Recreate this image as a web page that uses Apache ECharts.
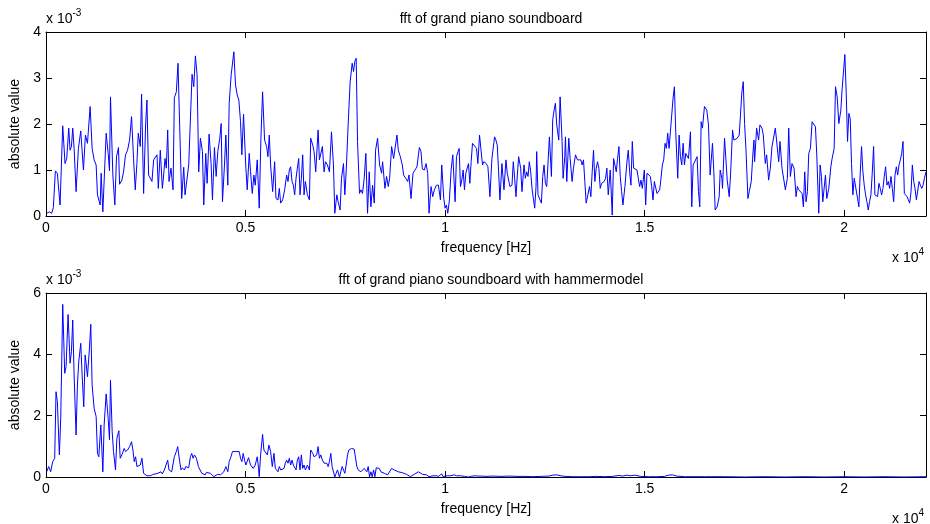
<!DOCTYPE html>
<html><head><meta charset="utf-8">
<script src="https://cdn.jsdelivr.net/npm/echarts@6/dist/echarts.min.js"></script>
<style>html,body{margin:0;padding:0;background:#fff}#c{width:930px;height:524px}</style>
</head><body><div id="c"></div>
<script>
// Top panel: frequency (Hz) and |FFT| (x 1e-3)
const freqTop = [17,84,142,184,235,285,352,419,477,519,570,603,637,670,704,754,812,871,938,988,1039,1106,1156,1206,1256,1290,1357,1382,1424,1474,1508,1558,1591,1616,1675,1725,1767,1817,1843,1901,1943,1993,2044,2094,2144,2194,2236,2278,2312,2362,2395,2446,2496,2529,2571,2613,2655,2697,2739,2781,2814,2864,2915,2948,2982,3015,3049,3082,3132,3183,3216,3266,3308,3350,3400,3451,3484,3534,3576,3618,3660,3702,3744,3785,3827,3869,3920,3953,4003,4037,4087,4137,4171,4221,4263,4305,4355,4389,4422,4472,4506,4556,4590,4640,4707,4749,4791,4832,4874,4908,4950,5008,5042,5092,5126,5168,5210,5243,5293,5343,5385,5427,5477,5528,5561,5595,5628,5679,5729,5762,5813,5846,5880,5930,5980,6030,6064,6097,6131,6164,6198,6231,6265,6298,6332,6365,6399,6432,6466,6499,6550,6600,6633,6684,6717,6759,6818,6851,6885,6926,6968,7002,7052,7102,7153,7203,7236,7287,7320,7370,7404,7454,7488,7521,7571,7621,7672,7705,7739,7772,7806,7856,7890,7931,7973,8015,8057,8099,8141,8183,8225,8258,8308,8359,8409,8434,8493,8534,8576,8610,8660,8710,8744,8794,8828,8878,8928,8961,9012,9062,9095,9146,9196,9246,9296,9355,9397,9430,9481,9523,9565,9598,9648,9690,9732,9782,9833,9883,9916,9967,10000,10033,10067,10109,10151,10193,10251,10285,10352,10385,10419,10452,10486,10519,10553,10586,10620,10653,10687,10737,10787,10821,10863,10904,10938,10972,11030,11073,11123,11173,11207,11240,11274,11307,11341,11374,11424,11475,11525,11558,11592,11625,11676,11709,11743,11776,11810,11843,11893,11927,11977,12011,12044,12078,12111,12145,12178,12212,12245,12279,12295,12329,12379,12413,12446,12480,12513,12547,12580,12614,12664,12697,12731,12764,12798,12848,12882,12932,12957,12999,13016,13049,13099,13133,13183,13217,13267,13317,13351,13401,13434,13468,13501,13535,13585,13619,13652,13686,13719,13753,13786,13820,13853,13887,13920,13954,13987,14021,14054,14088,14138,14188,14222,14255,14289,14322,14356,14389,14423,14456,14506,14557,14590,14624,14657,14691,14724,14774,14808,14841,14875,14908,14942,14975,14992,15026,15059,15093,15143,15176,15210,15243,15277,15310,15344,15377,15411,15444,15478,15511,15545,15578,15612,15645,15679,15712,15746,15779,15830,15863,15897,15930,15964,15997,16031,16064,16098,16148,16181,16215,16265,16315,16349,16382,16416,16449,16499,16558,16600,16641,16700,16734,16767,16817,16868,16893,16935,16951,17002,17035,17069,17119,17152,17203,17236,17270,17320,17370,17404,17437,17471,17504,17538,17588,17621,17672,17705,17739,17755,17806,17856,17889,17940,17973,18023,18057,18107,18149,18191,18233,18275,18325,18359,18392,18442,18476,18526,18576,18610,18651,18693,18744,18794,18827,18861,18911,18945,18978,19012,19045,19079,19112,19154,19196,19229,19280,19313,19363,19397,19430,19464,19531,19564,19615,19665,19698,19749,19782,19824,19866,19916,19950,20017,20050,20084,20117,20151,20184,20218,20251,20301,20335,20368,20402,20435,20469,20502,20536,20569,20603,20636,20670,20703,20737,20770,20804,20837,20871,20904,20938,20971,21005,21038,21072,21105,21139,21172,21206,21240,21273,21307,21340,21374,21407,21441,21474,21507,21541,21575,21608,21641,21675,21708,21742,21775,21809,21842,21876,21909,21943,21977,22010,22050];
const ampTop = [0.06,0.09,0.06,0.18,0.98,0.93,0.24,1.96,1.14,1.25,1.91,1.43,1.51,1.91,1.47,0.53,1.47,1.85,1.0,1.76,1.58,2.38,1.47,1.22,1.11,0.46,0.24,0.93,0.09,1.11,1.80,1.36,0.98,2.59,0.89,0.24,1.29,1.49,0.69,0.78,0.96,1.33,1.43,1.65,2.16,1.25,0.57,1.14,1.80,1.51,2.65,0.49,1.98,2.52,0.89,0.88,0.75,1.22,1.18,1.33,0.60,1.43,0.60,0.89,1.25,1.04,1.87,0.75,1.04,0.57,2.57,2.70,3.32,1.94,0.38,1.06,0.46,0.49,1.11,1.09,3.08,2.81,3.48,3.07,0.96,1.69,1.40,0.24,1.36,0.71,1.78,1.14,0.35,1.49,0.86,1.40,1.69,2.01,0.31,1.11,1.76,0.67,2.45,3.07,3.57,2.85,2.63,2.52,2.05,1.33,2.21,1.04,0.57,1.36,0.96,0.49,0.89,0.67,1.22,0.17,1.69,2.70,1.65,1.51,1.29,1.76,1.11,0.53,1.18,0.38,0.35,0.60,0.28,0.35,0.57,0.89,0.75,1.0,1.07,0.75,0.67,0.46,0.82,1.04,1.25,0.46,0.82,1.33,0.46,0.75,0.46,0.35,1.69,1.54,1.40,0.96,1.87,1.22,1.25,1.51,0.96,1.18,1.11,0.96,1.83,1.11,0.06,0.46,0.31,0.13,0.82,1.14,0.46,0.96,1.98,2.92,3.32,3.14,3.36,3.43,1.62,0.49,0.57,0.49,0.82,1.36,0.06,0.96,0.20,0.67,0.28,1.43,1.69,1.11,0.93,1.18,0.60,0.86,0.64,0.82,1.51,1.25,1.25,1.76,1.43,1.29,1.11,0.89,0.82,0.75,0.89,0.38,0.93,1.0,1.07,1.49,1.40,1.02,1.0,1.14,0.93,0.06,0.64,0.42,0.57,0.67,0.67,0.35,1.11,0.38,0.17,0.24,0.06,0.35,1.0,1.33,0.31,1.29,1.47,0.64,0.78,1.0,0.57,0.93,0.96,1.14,0.71,1.18,1.58,1.54,1.47,1.14,1.76,1.76,1.11,1.18,1.14,1.07,0.42,1.25,1.29,1.72,1.65,1.54,0.96,0.35,1.14,0.57,1.22,0.93,0.96,0.64,0.67,1.18,0.82,0.42,0.89,1.29,1.04,0.53,1.11,0.82,0.96,0.86,1.18,0.96,0.60,0.38,0.17,0.64,1.40,0.46,0.35,0.28,0.86,1.11,0.71,0.64,0.60,1.72,0.86,2.09,2.30,2.45,1.98,1.65,2.59,1.62,0.82,1.29,1.72,0.75,1.69,1.25,0.75,1.04,1.33,1.22,1.18,1.22,1.11,1.22,0.75,0.28,0.24,0.64,0.42,0.96,1.43,0.75,1.04,1.18,1.04,0.60,0.71,0.67,0.75,0.82,1.04,0.46,1.0,0.02,1.25,1.11,0.96,1.25,1.51,0.86,0.53,0.24,0.64,1.18,1.43,0.96,0.67,1.62,1.04,1.04,1.0,0.82,0.64,0.78,0.60,0.57,1.0,0.24,0.93,0.89,0.86,0.64,0.35,0.75,0.78,0.49,0.53,0.57,0.82,1.11,1.22,1.58,1.47,1.80,1.47,1.83,2.20,2.56,2.81,1.83,0.82,1.76,1.29,1.11,1.58,1.11,1.36,1.33,1.25,1.83,0.20,1.11,1.11,1.29,0.53,0.20,2.05,1.91,2.38,2.30,1.98,0.89,1.58,0.96,0.13,0.20,0.42,1.0,0.82,0.60,1.69,1.25,0.78,0.42,0.89,1.87,1.65,1.65,1.69,1.76,1.80,2.70,2.92,2.01,1.47,0.38,0.53,0.75,1.25,1.65,1.18,1.91,1.65,1.98,1.91,1.76,1.14,1.33,0.78,1.04,1.51,1.47,1.91,1.91,1.18,1.62,1.04,1.07,0.57,0.82,1.91,0.86,1.14,1.04,0.42,0.64,0.57,0.60,0.49,0.20,0.96,0.31,0.53,1.36,1.47,2.05,2.05,1.94,1.33,0.06,1.11,0.86,0.31,0.89,0.38,0.60,1.07,1.25,1.47,2.81,2.59,2.01,2.30,2.78,3.51,2.70,1.62,2.23,2.12,1.14,0.46,0.82,0.86,0.38,0.20,0.93,1.51,0.96,0.67,0.46,0.31,0.13,0.31,0.46,0.93,1.51,0.46,0.46,0.42,0.71,0.60,0.46,0.60,0.86,1.07,0.67,0.75,0.60,0.86,0.60,0.31,0.89,1.07,0.89,1.11,1.22,1.36,1.62,0.49,0.46,0.42,0.35,0.28,0.53,1.11,0.75,0.60,0.35,0.35,0.75,0.67,0.60,0.67,0.82,0.96];

// Bottom panel: with hammer model
const freqBottom = [17,67,117,168,218,251,285,335,369,419,469,503,553,603,637,670,704,754,787,821,871,905,946,980,1005,1039,1089,1122,1156,1206,1256,1290,1323,1374,1424,1457,1508,1558,1591,1616,1658,1692,1742,1776,1826,1859,1901,1926,1960,1993,2044,2094,2144,2178,2211,2245,2278,2328,2362,2404,2446,2487,2529,2613,2697,2781,2831,2881,2915,2965,2998,3049,3082,3116,3149,3183,3216,3266,3300,3350,3384,3417,3467,3501,3534,3576,3618,3652,3685,3719,3769,3819,3852,3903,3953,3987,4020,4070,4121,4171,4204,4254,4305,4338,4372,4422,4456,4506,4556,4590,4623,4673,4707,4757,4791,4841,4874,4908,4941,4975,5008,5042,5075,5126,5159,5193,5243,5293,5326,5343,5377,5427,5460,5502,5545,5586,5628,5670,5712,5746,5779,5813,5846,5880,5930,5963,5997,6030,6064,6097,6131,6164,6198,6231,6265,6298,6332,6365,6399,6432,6466,6499,6550,6600,6633,6684,6717,6751,6784,6818,6851,6885,6926,6968,7002,7035,7069,7102,7136,7169,7203,7236,7270,7303,7354,7387,7421,7454,7488,7521,7555,7588,7621,7655,7689,7722,7764,7789,7823,7856,7890,7931,7973,8015,8040,8074,8107,8141,8174,8208,8241,8275,8308,8350,8392,8434,8476,8526,8560,8610,8660,8694,8727,8777,8828,8878,8928,8978,9029,9079,9129,9179,9230,9280,9330,9380,9431,9481,9531,9565,9598,9648,9699,9732,9782,9833,9883,9916,9950,10000,10050,10084,10134,10184,10234,10285,10335,10385,10435,10486,10536,10586,10637,10687,10737,10821,10904,11030,11200,11400,11600,11800,12000,12200,12400,12600,12700,12800,12900,13000,13200,13400,13600,13800,14000,14200,14350,14450,14550,14650,14750,14900,15100,15300,15500,15600,15700,15800,16000,16500,17000,17500,18000,18500,19000,19500,20000,20500,21000,21500,22050];
const ampBottom = [0.17,0.34,0.17,0.50,0.61,2.78,2.46,0.72,1.91,5.63,3.38,3.60,5.30,3.71,4.09,5.12,3.33,1.37,3.0,3.76,4.36,3.33,2.29,3.98,3.71,3.27,4.20,4.98,3.0,2.24,1.97,0.77,0.66,1.70,0.17,1.70,2.71,1.91,1.21,3.16,1.48,0.83,0.23,1.26,1.51,0.61,0.72,0.66,0.93,0.83,0.88,0.99,1.15,0.88,0.50,0.66,0.34,0.39,0.39,0.61,0.12,0.07,0.04,0.04,0.09,0.11,0.12,0.17,0.10,0.23,0.17,0.55,0.23,0.28,0.17,0.23,0.66,0.83,0.99,0.50,0.23,0.30,0.23,0.34,0.28,0.30,0.66,0.77,0.61,0.72,0.61,0.34,0.28,0.12,0.17,0.07,0.15,0.12,0.12,0.07,0.01,0.07,0.09,0.12,0.07,0.12,0.17,0.34,0.17,0.50,0.61,0.83,0.77,0.83,0.77,0.83,0.61,0.50,0.77,0.55,0.39,0.34,0.63,0.39,0.45,0.28,0.39,0.66,0.28,0.01,0.72,1.39,0.88,0.86,0.72,1.04,0.83,0.34,0.77,0.28,0.34,0.17,0.34,0.23,0.20,0.28,0.45,0.55,0.45,0.61,0.39,0.55,0.39,0.34,0.23,0.55,0.66,0.23,0.72,0.28,0.39,0.23,0.39,0.23,0.88,0.77,0.66,0.61,0.72,0.99,0.61,0.72,0.55,0.45,0.39,0.45,0.34,0.50,0.77,0.34,0.28,0.0,0.12,0.23,0.0,0.17,0.34,0.39,0.12,0.39,0.72,0.88,0.93,0.93,0.88,0.91,0.93,0.34,0.23,0.23,0.17,0.23,0.28,0.34,0.17,0.34,0.0,0.17,0.01,0.23,0.01,0.30,0.30,0.28,0.17,0.23,0.12,0.17,0.07,0.12,0.28,0.23,0.23,0.20,0.17,0.12,0.14,0.17,0.09,0.12,0.01,0.07,0.09,0.12,0.17,0.15,0.09,0.07,0.07,0.09,0.01,0.04,0.04,0.02,0.04,0.02,0.03,0.10,0.01,0.01,0.04,0.01,0.04,0.09,0.07,0.04,0.07,0.04,0.05,0.02,0.04,0.0,0.02,0.03,0.04,0.03,0.03,0.02,0.03,0.02,0.03,0.02,0.02,0.01,0.02,0.03,0.06,0.07,0.04,0.02,0.01,0.01,0.01,0.02,0.01,0.02,0.05,0.03,0.06,0.04,0.06,0.02,0.01,0.01,0.02,0.06,0.07,0.03,0.01,0.01,0.01,0.0,0.01,0.0,0.01,0.0,0.01,0.0,0.01,0.0,0.01];

const xTicks = [0, 5000, 10000, 15000, 20000];
const xTickLabels = ['0', '0.5', '1', '1.5', '2'];
const yTicksTop = ['0', '1', '2', '3', '4'];
const yTicksBottom = ['0', '2', '4', '6'];
const titles = ['fft of grand piano soundboard', 'fft of grand piano soundboard with hammermodel'];
const xName = 'frequency [Hz]';
const yName = 'absolute value';

const FONT = 'Liberation Sans, Arial, Helvetica, sans-serif';
const FS = 14;
const XMAX = 22050;
const chart = echarts.init(document.getElementById('c'), null, {renderer: 'canvas'});

function zip(xs, ys) { return xs.map((x, i) => [x, ys[i]]); }

const grids = [
  {left: 46, top: 32, width: 880, height: 184},
  {left: 46, top: 293, width: 880, height: 184}
];
const tickStyle = {show: true, inside: true, length: 6, lineStyle: {color: '#000', width: 1}};
const lineStyle = {show: true, onZero: false, lineStyle: {color: '#000', width: 1}};
const labelStyle = {color: '#000', fontFamily: FONT, fontSize: FS};
const nameStyle = {color: '#000', fontFamily: FONT, fontSize: FS};

function xLabel(v) {
  const i = xTicks.indexOf(v);
  return i >= 0 ? xTickLabels[i] : '';
}

const xAxes = [], yAxes = [];
[0, 1].forEach(g => {
  xAxes.push({type: 'value', gridIndex: g, min: 0, max: XMAX, interval: 5000, position: 'bottom',
    axisLine: lineStyle, axisTick: tickStyle, splitLine: {show: false},
    axisLabel: Object.assign({}, labelStyle, {margin: 5, showMaxLabel: false, formatter: xLabel}),
    name: xName, nameLocation: 'middle', nameGap: 25, nameTextStyle: nameStyle});
  xAxes.push({type: 'value', gridIndex: g, min: 0, max: XMAX, interval: 5000, position: 'top',
    axisLine: lineStyle, axisTick: tickStyle, splitLine: {show: false}, axisLabel: {show: false}});
});
yAxes.push({type: 'value', gridIndex: 0, min: 0, max: 4, interval: 1, position: 'left',
  axisLine: lineStyle, axisTick: tickStyle, splitLine: {show: false},
  axisLabel: Object.assign({}, labelStyle, {margin: 5, formatter: v => yTicksTop[Math.round(v)]}),
  name: yName, nameLocation: 'middle', nameGap: 17, nameRotate: 90, nameTextStyle: nameStyle});
yAxes.push({type: 'value', gridIndex: 0, min: 0, max: 4, interval: 1, position: 'right',
  axisLine: lineStyle, axisTick: tickStyle, splitLine: {show: false}, axisLabel: {show: false}});
yAxes.push({type: 'value', gridIndex: 1, min: 0, max: 6, interval: 2, position: 'left',
  axisLine: lineStyle, axisTick: tickStyle, splitLine: {show: false},
  axisLabel: Object.assign({}, labelStyle, {margin: 5, formatter: v => yTicksBottom[Math.round(v / 2)]}),
  name: yName, nameLocation: 'middle', nameGap: 17, nameRotate: 90, nameTextStyle: nameStyle});
yAxes.push({type: 'value', gridIndex: 1, min: 0, max: 6, interval: 2, position: 'right',
  axisLine: lineStyle, axisTick: tickStyle, splitLine: {show: false}, axisLabel: {show: false}});

const rich = {
  b: {fontFamily: FONT, fontSize: 14, color: '#000', lineHeight: 18, verticalAlign: 'bottom'},
  s: {fontFamily: FONT, fontSize: 10, color: '#000', lineHeight: 18, verticalAlign: 'top'}
};
function txt(x, y, text) {
  return {type: 'text', left: x, top: y, style: {text: text, rich: rich, fill: '#000'}};
}

chart.setOption({
  animation: false,
  backgroundColor: '#fff',
  grid: grids,
  xAxis: xAxes,
  yAxis: yAxes,
  title: [
    {text: titles[0], left: 486, top: 7, textAlign: 'center',
      textStyle: {fontFamily: FONT, fontSize: FS, fontWeight: 'normal', color: '#000'}},
    {text: titles[1], left: 486, top: 268, textAlign: 'center',
      textStyle: {fontFamily: FONT, fontSize: FS, fontWeight: 'normal', color: '#000'}}
  ],
  graphic: [
    txt(46, 8, '{b|x 10}{s|-3}'),
    txt(46, 269, '{b|x 10}{s|-3}'),
    txt(892, 247, '{b|x 10}{s|4}'),
    txt(892, 508, '{b|x 10}{s|4}')
  ],
  series: [
    {type: 'line', xAxisIndex: 0, yAxisIndex: 0, data: zip(freqTop, ampTop), showSymbol: false,
      lineStyle: {color: '#0000ff', width: 1}, itemStyle: {color: '#0000ff'}, clip: true},
    {type: 'line', xAxisIndex: 2, yAxisIndex: 2, data: zip(freqBottom, ampBottom), showSymbol: false,
      lineStyle: {color: '#0000ff', width: 1}, itemStyle: {color: '#0000ff'}, clip: true}
  ]
});
</script>
</body></html>
